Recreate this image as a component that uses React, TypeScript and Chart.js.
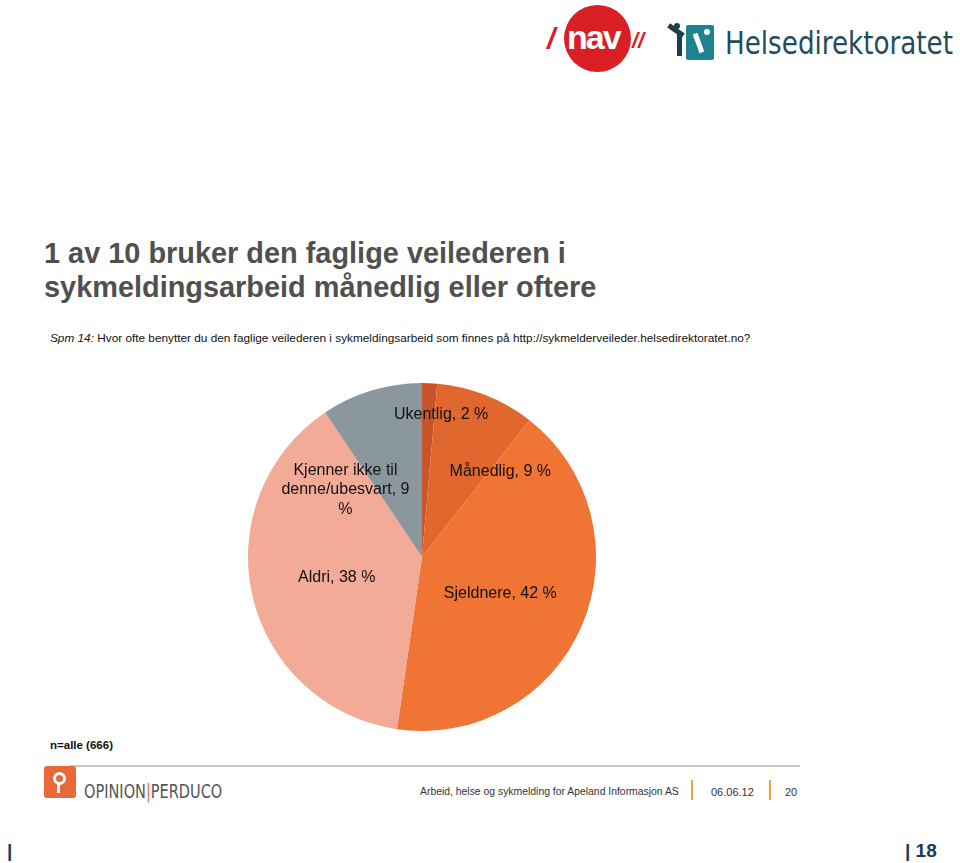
import React, { useEffect, useRef } from "react";
import { Chart, registerables } from "chart.js";

Chart.register(...registerables);

const categories = ["Ukentlig", "Månedlig", "Sjeldnere", "Aldri", "Kjenner ikke til denne/ubesvart"];
// slice sizes (labels show the rounded figures)
const values = [1.4, 9.2, 41.7, 38.3, 9.4];
const labelLines = [
  ["Ukentlig, 2 %"],
  ["Månedlig, 9 %"],
  ["Sjeldnere, 42 %"],
  ["Aldri, 38 %"],
  ["Kjenner ikke til", "denne/ubesvart, 9", "%"],
];
const colors = ["#C8552A", "#E0672D", "#F07433", "#F3AA97", "#8B979E"];
// label positions relative to the pie radius (fraction of R from centre)
const labelOffsets = [
  [0.11, -0.82],
  [0.45, -0.49],
  [0.45, 0.21],
  [-0.49, 0.12],
  [-0.44, -0.385],
];

const FONT = "'Liberation Sans', Arial, sans-serif";

const labelPlugin = {
  id: "sliceLabels",
  afterDatasetsDraw(chart: any) {
    const ctx = chart.ctx;
    const meta = chart.getDatasetMeta(0);
    ctx.save();
    ctx.fillStyle = "#111111";
    ctx.font = `16px ${FONT}`;
    ctx.textAlign = "center";
    ctx.textBaseline = "middle";
    meta.data.forEach((arc: any, i: number) => {
      const R = arc.outerRadius;
      const cx = arc.x + R * labelOffsets[i][0];
      const cy = arc.y + R * labelOffsets[i][1];
      const lines = labelLines[i];
      const lh = 19.5;
      lines.forEach((ln, j) => {
        ctx.fillText(ln, cx, cy + (j - (lines.length - 1) / 2) * lh);
      });
    });
    ctx.restore();
  },
};

function PieChart() {
  const ref = useRef<HTMLCanvasElement>(null);
  useEffect(() => {
    if (!ref.current) return;
    const chart = new Chart(ref.current, {
      type: "pie",
      data: {
        labels: categories,
        datasets: [
          {
            data: values,
            backgroundColor: colors,
            borderWidth: 0,
          },
        ],
      },
      options: {
        animation: false,
        responsive: false,
        maintainAspectRatio: false,
        layout: { padding: 0 },
        plugins: {
          legend: { display: false },
          tooltip: { enabled: false },
        },
      },
      plugins: [labelPlugin],
    });
    return () => chart.destroy();
  }, []);
  return (
    <canvas
      ref={ref}
      width={348}
      height={348}
      style={{ position: "absolute", left: 248, top: 383, width: 348, height: 348 }}
    />
  );
}

export default function App() {
  useEffect(() => {
    document.body.style.margin = "0";
  }, []);
  const abs = (l: number, t: number, extra: any = {}) => ({
    position: "absolute" as const,
    left: l,
    top: t,
    whiteSpace: "nowrap" as const,
    ...extra,
  });
  return (
    <div
      style={{
        position: "absolute",
        left: 0,
        top: 0,
        width: 960,
        height: 863,
        background: "#fff",
        overflow: "hidden",
        fontFamily: FONT,
      }}
    >
      {/* NAV logo */}
      <div style={abs(547, 24, { color: "#D91F26", fontWeight: 900, fontSize: 30, fontStyle: "italic", lineHeight: "30px" })}>/</div>
      <div
        style={abs(564, 5, {
          width: 67,
          height: 67,
          borderRadius: "50%",
          background: "#D91F26",
        })}
      />
      <div
        style={abs(567, 19, {
          color: "#fff",
          fontWeight: 900,
          fontSize: 34,
          letterSpacing: -2,
          lineHeight: "36px",
        })}
      >
        nav
      </div>
      <div style={abs(632, 30, { color: "#D91F26", fontWeight: 700, fontSize: 22, fontStyle: "italic", lineHeight: "22px" })}>//</div>

      {/* Helsedirektoratet logo */}
      <div style={abs(686, 25, { width: 28, height: 35, background: "#1F8290", borderRadius: 2 })} />
      <div style={abs(696, 33, { width: 5, height: 20, background: "#fff", transform: "rotate(-20deg)" })} />
      <div style={abs(704, 29, { width: 6, height: 6, background: "#fff", borderRadius: "50%" })} />
      <div style={abs(667, 28, { width: 18, height: 5, background: "#1B3F4F", transform: "rotate(35deg)" })} />
      <div style={abs(677, 34, { width: 5, height: 22, background: "#1B3F4F" })} />
      <div style={abs(674, 23, { width: 6, height: 6, background: "#1B3F4F", borderRadius: "50%" })} />
      <div
        style={abs(725, 21, {
          color: "#1F4D5C",
          fontSize: 32,
          fontFamily: "'DejaVu Sans Condensed', 'DejaVu Sans', sans-serif",
          lineHeight: "44px",
          transform: "scaleX(0.91)",
          transformOrigin: "left top",
        })}
      >
        Helsedirektoratet
      </div>

      {/* Title */}
      <div
        style={abs(44, 236, {
          color: "#505050",
          fontWeight: 700,
          fontSize: 28.9,
          lineHeight: "34px",
        })}
      >
        1 av 10 bruker den faglige veilederen i
        <br />
        sykmeldingsarbeid månedlig eller oftere
      </div>

      {/* Question */}
      <div style={abs(50, 330, { color: "#111", fontSize: 11.8, lineHeight: "16px" })}>
        <i>Spm 14:</i> Hvor ofte benytter du den faglige veilederen i sykmeldingsarbeid som finnes på
        http://sykmelderveileder.helsedirektoratet.no?
      </div>

      <PieChart />

      <div style={abs(50, 737, { color: "#111", fontSize: 11.5, fontWeight: 700, lineHeight: "16px" })}>n=alle (666)</div>

      {/* Footer */}
      <div style={abs(70, 765, { width: 730, height: 2, background: "#C8C8C8" })} />
      <div style={abs(44, 766, { width: 32, height: 32, background: "#E8683A", borderRadius: 3 })} />
      <div style={abs(53, 772, { width: 13, height: 13, border: "3px solid #fff", borderRadius: "50%", boxSizing: "border-box" as const })} />
      <div style={abs(57, 784, { width: 3, height: 9, background: "#fff" })} />
      <div
        style={abs(84, 779, {
          color: "#555",
          fontSize: 19,
          lineHeight: "24px",
          fontFamily: "'Liberation Sans Narrow', 'DejaVu Sans Condensed', sans-serif",
          transform: "scaleX(0.85)",
          transformOrigin: "left top",
        })}
      >
        OPINION<span style={{ color: "#E8683A" }}>|</span>PERDUCO
      </div>
      <div style={abs(420, 785, { color: "#333", fontSize: 10.4, lineHeight: "14px" })}>
        Arbeid, helse og sykmelding for Apeland Informasjon AS
      </div>
      <div style={abs(691, 780, { width: 2, height: 20, background: "#F0A040" })} />
      <div style={abs(711, 785, { color: "#333", fontSize: 11, lineHeight: "14px" })}>06.06.12</div>
      <div style={abs(769, 780, { width: 2, height: 20, background: "#F0A040" })} />
      <div style={abs(785, 785, { color: "#333", fontSize: 11, lineHeight: "14px" })}>20</div>

      {/* Page number */}
      <div style={abs(7, 840, { color: "#1B3A57", fontSize: 19, fontWeight: 700, lineHeight: "22px" })}>|</div>
      <div style={abs(905, 840, { color: "#1B3A57", fontSize: 19, fontWeight: 700, lineHeight: "22px" })}>| 18</div>
    </div>
  );
}
